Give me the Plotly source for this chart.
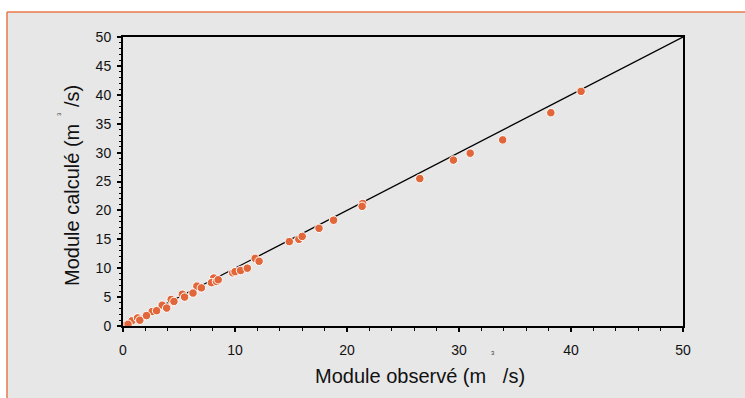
import plotly.graph_objects as go

# Observed vs calculated discharge (m3/s)
observed = [0.8, 1.3, 2.6, 3.5, 4.3, 5.3, 6.6, 8.1, 11.8, 21.4,
            0.15, 0.45, 1.5, 2.1, 3.0, 3.9, 4.55, 5.5, 6.25, 7.0,
            7.9, 8.35, 8.5, 9.8, 10.0, 10.5, 11.1, 12.15,
            14.85, 15.7, 16.0, 17.5, 18.8, 21.35, 26.5, 29.5, 31.0, 33.9, 38.2, 40.9]
calculated = [0.9, 1.4, 2.5, 3.6, 4.6, 5.5, 6.9, 8.3, 11.7, 21.2,
              0.05, 0.3, 1.0, 1.8, 2.65, 3.1, 4.25, 5.0, 5.7, 6.6,
              7.5, 7.7, 8.0, 9.2, 9.4, 9.6, 10.0, 11.2,
              14.6, 15.0, 15.5, 16.9, 18.3, 20.7, 25.5, 28.7, 29.9, 32.2, 36.9, 40.6]
line_x = [0, 50]
line_y = [0, 50]
x_ticks = [0, 10, 20, 30, 40, 50]
y_ticks = [0, 5, 10, 15, 20, 25, 30, 35, 40, 45, 50]

BG = "#e7e7e7"
ORANGE = "#e1673a"
FRAME = "#e8784a"
FONT = "Liberation Sans, Arial, sans-serif"

fig = go.Figure()
fig.add_trace(go.Scatter(x=line_x, y=line_y, mode="lines",
                         line=dict(color="black", width=1.3), hoverinfo="skip"))
fig.add_trace(go.Scatter(x=observed, y=calculated, mode="markers",
                         marker=dict(color=ORANGE, size=8.5,
                                     line=dict(color="white", width=1))))

axis_common = dict(
    showline=True, linecolor="black", linewidth=2, mirror=True,
    showgrid=False, zeroline=False,
    ticks="outside", ticklen=4, tickwidth=1.5, tickcolor="black",
    tickfont=dict(family=FONT, size=14, color="#111"),
)

fig.update_xaxes(range=[0, 50], tickvals=x_ticks, ticktext=[str(v) for v in x_ticks],
                 ticklabelstandoff=6,
                 minor=dict(dtick=2, tick0=0, ticks="outside", ticklen=2.5,
                            tickcolor="black", tickwidth=1),
                 **axis_common)
fig.update_yaxes(range=[0, 50], tickvals=y_ticks, ticktext=[str(v) for v in y_ticks],
                 ticklabelstandoff=3,
                 minor=dict(dtick=1, tick0=0, ticks="outside", ticklen=2.5,
                            tickcolor="black", tickwidth=1),
                 **axis_common)

# plot area pixels: x 123..683, y 37..326
L, R, T, B = 123, 62, 37, 72
W, H = 745, 398
pw, ph = W - L - R, H - T - B


def px(xp):
    return (xp - L) / pw


def py(yp):
    return (H - B - yp) / ph


shapes = [
    dict(type="rect", xref="paper", yref="paper", x0=px(-5), x1=px(W + 5),
         y0=py(12), y1=py(-5), fillcolor="white", line=dict(width=0), layer="below"),
    dict(type="rect", xref="paper", yref="paper", x0=px(-5), x1=px(7),
         y0=py(H + 5), y1=py(-5), fillcolor="white", line=dict(width=0), layer="below"),
    dict(type="line", xref="paper", yref="paper", x0=px(7), x1=px(W + 5),
         y0=py(12), y1=py(12), line=dict(color=FRAME, width=1.5)),
    dict(type="line", xref="paper", yref="paper", x0=px(7), x1=px(7),
         y0=py(12), y1=py(H + 5), line=dict(color=FRAME, width=1.5)),
]

annotations = [
    dict(text="Module observé (m&nbsp;&nbsp;&nbsp;/s)", xref="paper", yref="paper",
         x=px(420), y=py(376), showarrow=False, xanchor="center", yanchor="middle",
         font=dict(family=FONT, size=20, color="#111")),
    dict(text="3", xref="paper", yref="paper", x=px(493), y=py(353), showarrow=False,
         xanchor="center", yanchor="middle",
         font=dict(family=FONT, size=6, color="#333")),
    dict(text="Module calculé (m&nbsp;&nbsp;&nbsp;/s)", xref="paper", yref="paper",
         x=px(72), y=py(186), showarrow=False, xanchor="center", yanchor="middle",
         textangle=-90,
         font=dict(family=FONT, size=20, color="#111")),
    dict(text="3", xref="paper", yref="paper", x=px(59), y=py(114), showarrow=False,
         xanchor="center", yanchor="middle", textangle=-90,
         font=dict(family=FONT, size=6, color="#333")),
]

fig.update_layout(
    width=W, height=H,
    margin=dict(l=L, r=R, t=T, b=B, pad=0),
    paper_bgcolor=BG, plot_bgcolor=BG,
    showlegend=False,
    shapes=shapes,
    annotations=annotations,
)

fig.write_html("out.html", config={"displayModeBar": False},
               post_script="document.body.style.margin='0px';document.body.style.padding='0px';")
